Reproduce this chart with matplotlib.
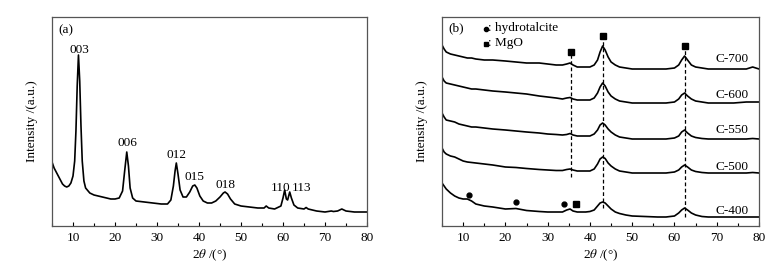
import matplotlib
matplotlib.use("Agg")
import matplotlib.pyplot as plt
from matplotlib.ticker import MultipleLocator

plt.rcParams['font.family'] = ['Liberation Serif', 'DejaVu Serif']
plt.rcParams['mathtext.fontset'] = 'stix'

# ---------------- Panel (a): hydrotalcite precursor ----------------
a_x = [5.0, 5.5, 6.0, 6.5, 7.0, 7.5, 8.0, 8.5, 9.0, 9.5, 10.0, 10.4, 10.7, 11.0, 11.3,
       11.6, 11.9, 12.2, 12.6, 13.0, 14.0, 15, 16, 17, 18, 19, 20, 21, 21.8, 22.3, 22.8,
       23.2, 23.6, 24.2, 25, 27, 29, 31, 32.5, 33.3, 33.9, 34.3, 34.6, 35.0, 35.5, 36.2,
       37, 37.8, 38.5, 39.0, 39.5, 40.2, 41, 42, 43, 44, 45, 45.8, 46.2, 46.8, 47.5, 48.5,
       50, 52, 54, 55.5, 56, 56.6, 58, 59.5, 60.0, 60.4, 60.8, 61.1, 61.6, 62.0, 62.6,
       63.5, 65, 65.5, 66, 68, 70, 71.5, 72, 73, 74, 75, 77, 80]
a_y = [64, 58, 54, 50, 46, 42, 40, 39, 40, 43, 50, 65, 95, 140, 171,
       145, 100, 65, 45, 38, 33, 31, 30, 29, 28, 27, 27, 28, 35, 55, 74,
       60, 38, 28, 25, 24, 23, 22, 22, 26, 40, 55, 63, 52, 36, 29,
       29, 34, 40, 41, 38, 30, 25, 23, 23, 25, 29, 33, 34, 32, 27, 22,
       20, 19, 18, 18, 20, 18, 17, 20, 28, 36, 27, 26, 34, 28, 21,
       18, 17, 18.5, 17, 15, 14, 15, 14.5, 15, 17, 15, 14, 14]
a_labels = ["003", "006", "012", "015", "018", "110", "113"]
a_label_x = [11.4, 22.9, 34.7, 38.8, 46.2, 59.5, 64.5]
a_label_y = [176, 83, 71, 49, 41, 38, 38]

# ---------------- Panel (b): calcined samples ----------------
b_x = [5, 5.5, 6, 7, 8, 9, 10, 11, 12, 13, 15, 17, 20, 22.5, 25, 28, 30, 32, 33.5, 34.5,
       35.3, 36, 37, 38, 39, 40, 41, 41.8, 42.4, 43, 43.6, 44.3, 45, 46, 47, 48.5, 50, 53,
       56, 58, 60, 61, 61.7, 62.4, 63.1, 64, 65, 66.5, 68, 71, 74, 77, 78.5, 80]
c700 = [181, 177, 174, 172, 171, 170, 169, 168, 168, 167, 166, 166, 165, 164, 163, 163, 162,
        161, 161, 162, 163, 161, 159, 159, 159, 159, 161, 166, 174, 180, 176, 169, 164, 161,
        159, 158, 157, 157, 157, 157, 158, 161, 166, 170, 166, 161, 159, 158, 157, 157, 157,
        157, 159, 157]
c600 = [149, 145, 143, 142, 141, 140, 139, 138, 137, 137, 136, 135, 134, 133, 132, 130, 129,
        128, 127, 128, 128.5, 127, 126, 126, 126, 126, 128, 133, 139, 143, 140, 134, 130, 127,
        125, 124, 123, 123, 123, 123, 124, 127, 131, 133, 130, 127, 125, 124, 123, 123, 123,
        124, 124, 124]
c550 = [113, 109, 106, 105, 104, 102, 101, 100, 99, 99, 98, 97, 96, 95, 94, 93, 92, 91.5, 91,
        91.5, 92.5, 91, 90, 90, 90, 90, 92, 96, 101, 103, 101, 97, 94, 91, 89, 88, 87, 87, 87,
        87, 88, 90, 94, 96, 93, 90, 88.5, 87.5, 87, 87, 87, 87, 87.5, 87]
c500 = [78, 74, 72, 70, 69, 67, 65, 64, 63.5, 63, 62, 61, 59, 58.5, 57.5, 56.5, 56, 55.5, 55.5,
        56.5, 57, 56, 55, 55, 55, 55, 57, 62, 67, 69, 67.5, 63, 60, 57, 55, 54, 53, 53, 53, 53,
        54, 56, 59, 61, 59, 56, 54.5, 53.5, 53, 53, 53, 53, 53.5, 53]
c400 = [43, 40, 37, 33, 30, 28, 27, 27, 25, 22, 20, 19, 17, 17.5, 15.5, 14.5, 14, 14, 14, 16,
        17, 15, 14, 14, 14, 14.5, 16, 20, 23, 24, 23, 20, 17, 14, 12.5, 11, 10, 9.5, 9, 9, 10,
        13, 16, 18, 16, 13, 11, 9.5, 9, 9, 9, 9, 9, 9]
b_series = [c700, c600, c550, c500, c400]
b_names = ["C-700", "C-600", "C-550", "C-500", "C-400"]
b_name_y = [167, 131, 96, 59, 15]

mgo_line_x = [35.5, 43.1, 62.5]
mgo_line_top = [171, 188, 177]
mgo_line_bottom = [49, 18, 9]
mgo_mark_x = [35.5, 43.1, 62.5, 36.7]
mgo_mark_y = [174, 190, 180, 22]
ht_mark_x = [11.4, 22.5, 33.9]
ht_mark_y = [31, 24, 22]

W, H = 784, 266
fig = plt.figure(figsize=(W / 100, H / 100), dpi=100)
fs = 9.5


def style(ax):
    ax.set_xlim(5, 80)
    ax.set_ylim(0, 209)
    ax.set_yticks([])
    ax.xaxis.set_major_locator(MultipleLocator(10))
    ax.xaxis.set_minor_locator(MultipleLocator(5))
    ax.tick_params(axis='x', which='major', direction='in', length=3, width=0.8,
                   labelsize=fs, pad=4, top=False)
    ax.tick_params(axis='x', which='minor', direction='in', length=2, width=0.8, top=False)
    for s in ax.spines.values():
        s.set_color('#555555')
        s.set_linewidth(0.9)
    ax.set_xlabel(r'2$\mathit{\theta}$ /(°)', fontsize=fs, labelpad=3)
    ax.set_ylabel('Intensity /(a.u.)', fontsize=fs, labelpad=10)


axa = fig.add_axes([52 / W, (H - 226) / H, 315 / W, 209 / H])
style(axa)
axa.plot(a_x, a_y, color='black', lw=1.2)
for t, x, y in zip(a_labels, a_label_x, a_label_y):
    axa.text(x, y, t, ha='center', va='center', fontsize=fs)
axa.text(6.5, 196, '(a)', ha='left', va='center', fontsize=fs)

axb = fig.add_axes([442 / W, (H - 226) / H, 317 / W, 209 / H])
style(axb)
for ys in b_series:
    axb.plot(b_x, ys, color='black', lw=1.2)
for n, y in zip(b_names, b_name_y):
    axb.text(77.5, y, n, ha='right', va='center', fontsize=fs)
for x, y0, y1 in zip(mgo_line_x, mgo_line_bottom, mgo_line_top):
    axb.plot([x, x], [y0, y1], color='black', lw=0.9, ls=(0, (3, 2)))
axb.plot(mgo_mark_x, mgo_mark_y, ls='none', marker='s', ms=4.5, color='black')
axb.plot(ht_mark_x, ht_mark_y, ls='none', marker='o', ms=3.5, color='black')
axb.text(6.5, 198, '(b)', ha='left', va='center', fontsize=fs)
# legend keys
axb.plot([15.3], [197], ls='none', marker='o', ms=3, color='black')
axb.plot([15.3], [182], ls='none', marker='s', ms=3.5, color='black')
axb.text(15.9, 198, ': hydrotalcite', ha='left', va='center', fontsize=fs)
axb.text(15.9, 183, ': MgO', ha='left', va='center', fontsize=fs)

fig.savefig('out.png', dpi=100)
